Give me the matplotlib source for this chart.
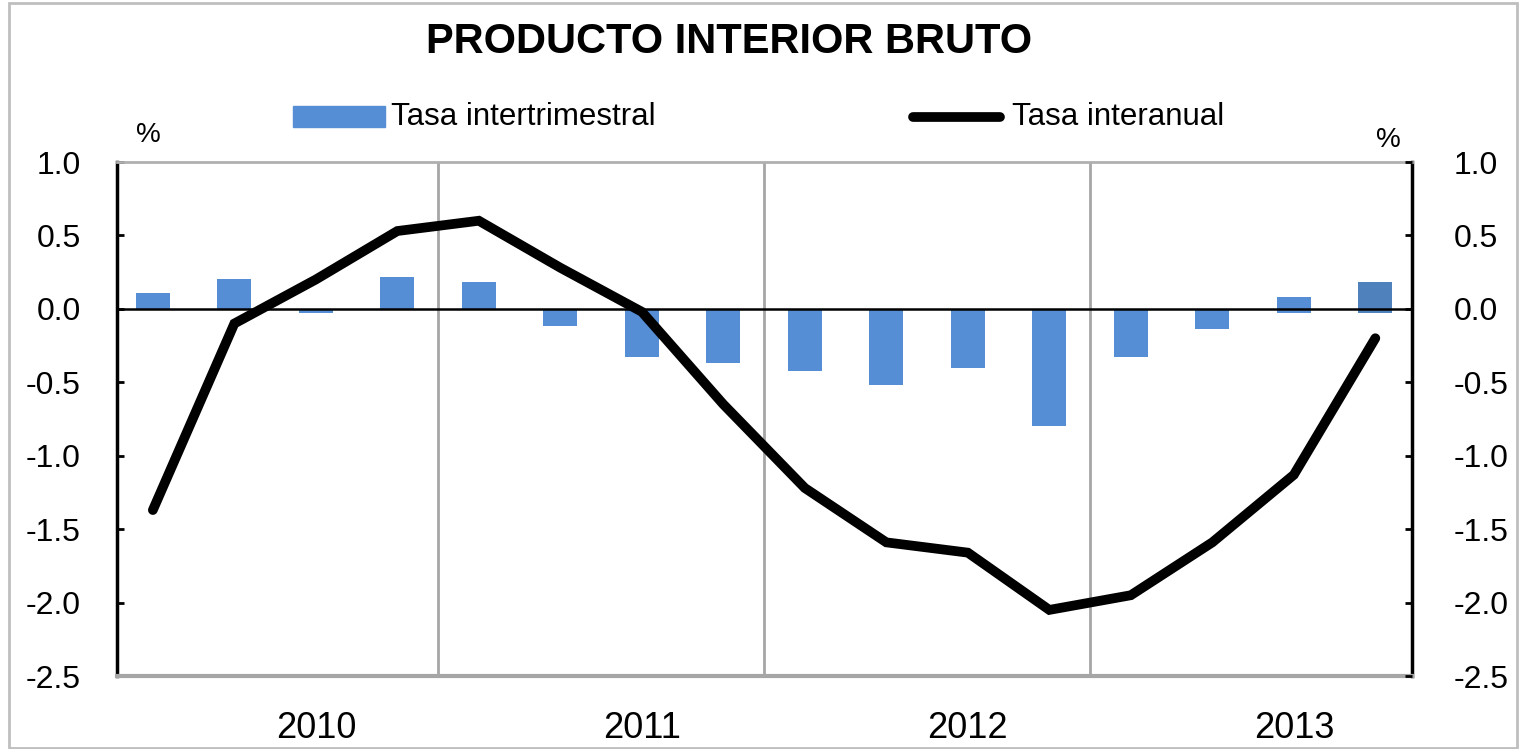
import matplotlib.pyplot as plt
import numpy as np

plt.rcParams['font.family'] = ['Liberation Sans', 'DejaVu Sans']

# Datos trimestrales 2010T1 - 2013T4
trimestres = ['2010T1', '2010T2', '2010T3', '2010T4',
              '2011T1', '2011T2', '2011T3', '2011T4',
              '2012T1', '2012T2', '2012T3', '2012T4',
              '2013T1', '2013T2', '2013T3', '2013T4']
tasa_intertrimestral = [0.11, 0.20, -0.03, 0.22,
                        0.18, -0.12, -0.33, -0.37,
                        -0.42, -0.52, -0.40, -0.80,
                        -0.33, -0.14, 0.08, 0.18]
ajuste_negativo = [0, 0, 0, 0, 0, 0, 0, 0, 0, 0, 0, 0, 0, 0, -0.03, -0.03]
tasa_interanual = [-1.37, -0.10, 0.20, 0.53,
                   0.60, 0.28, -0.02, -0.65,
                   -1.22, -1.59, -1.66, -2.05,
                   -1.95, -1.59, -1.13, -0.20]
anios = ['2010', '2011', '2012', '2013']

azul = '#558ED5'
azul_osc = '#4F81BD'

fig = plt.figure(figsize=(15.22, 7.49), dpi=100)
ax = fig.add_axes([117 / 1522, 1 - 676 / 749, (1412 - 117) / 1522, (676 - 162) / 749])

x = np.arange(len(trimestres))
colores = [azul] * (len(x) - 1) + [azul_osc]
ax.bar(x, tasa_intertrimestral, width=0.42, color=colores, zorder=2)
ax.bar(x, ajuste_negativo, width=0.42, color=colores, zorder=2)
ax.plot(x, tasa_interanual, color='black', lw=7, solid_capstyle='round',
        solid_joinstyle='miter', zorder=4)
ax.axhline(0, color='black', lw=1.8, zorder=3)

ax.set_xlim(-0.44, len(x) - 0.55)
ax.set_ylim(-2.5, 1.0)
yt = np.arange(-2.5, 1.01, 0.5)
ax.set_yticks(yt)
ax.set_yticklabels([f'{v:.1f}' for v in yt], fontsize=23)
ax.tick_params(axis='y', direction='in', length=5, width=2, pad=26)
ax.set_xticks([])

for b in [3.5, 7.5, 11.5]:
    ax.axvline(b, color='#A6A6A6', lw=2, zorder=1)
# etiqueta del año centrada en el tercer trimestre
for i, a in enumerate(anios):
    ax.text(4 * i + 2, -2.86, a, ha='center', va='center', fontsize=26)

ax.spines['left'].set_linewidth(2.5)
ax.spines['right'].set_linewidth(2.5)
ax.spines['top'].set_color('#B0B0B0')
ax.spines['bottom'].set_color('#A6A6A6')
ax.spines['top'].set_linewidth(2)
ax.spines['bottom'].set_linewidth(3)

ax2 = ax.twinx()
ax2.set_ylim(-2.5, 1.0)
ax2.set_yticks(yt)
ax2.set_yticklabels([f'{v:.1f}' for v in yt], fontsize=23)
ax2.tick_params(axis='y', direction='in', length=5, width=2, pad=30)
for s in ax2.spines.values():
    s.set_visible(False)

fig.text(148 / 1522, 1 - 135 / 749, '%', ha='center', va='center', fontsize=20)
fig.text(1388 / 1522, 1 - 140 / 749, '%', ha='center', va='center', fontsize=20)
fig.text(729 / 1522, 1 - 42 / 749, 'PRODUCTO INTERIOR BRUTO', ha='center',
         va='center', fontsize=30, fontweight='bold')

# Leyenda manual
fig.patches.append(plt.Rectangle((293 / 1522, 1 - 127 / 749), 92 / 1522, 21 / 749,
                                 transform=fig.transFigure, color=azul))
fig.text(391 / 1522, 1 - 117 / 749, 'Tasa intertrimestral', ha='left', va='center', fontsize=22.5)
fig.lines.append(plt.Line2D([913 / 1522, 1000 / 1522], [1 - 117 / 749, 1 - 117 / 749],
                            transform=fig.transFigure, color='black', lw=7,
                            solid_capstyle='round'))
fig.text(1012 / 1522, 1 - 117 / 749, 'Tasa interanual', ha='left', va='center', fontsize=22.5)

fig.patches.append(plt.Rectangle((9 / 1522, 1.5 / 749), 1508 / 1522, 745 / 749,
                                 transform=fig.transFigure, fill=False,
                                 edgecolor='#BFBFBF', lw=2))

fig.savefig('out.png', dpi=100)
